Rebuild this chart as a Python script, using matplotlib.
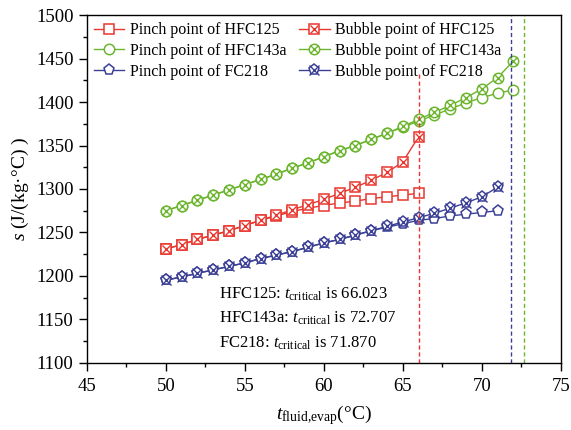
import matplotlib
matplotlib.use('Agg')
import matplotlib.pyplot as plt
from matplotlib.ticker import MultipleLocator

plt.rcParams['font.family'] = ['Liberation Serif', 'DejaVu Serif']
plt.rcParams['mathtext.fontset'] = 'custom'
plt.rcParams['mathtext.rm'] = 'Liberation Serif'
plt.rcParams['mathtext.it'] = 'Liberation Serif:italic'

# evaporating fluid temperature (°C) for each refrigerant
t_hfc125 = list(range(50, 67))
t_hfc143a = list(range(50, 73))
t_fc218 = list(range(50, 72))

# entropy values s (J/(kg·°C))
pinch_hfc125 = [1231, 1236, 1242, 1247, 1252, 1258, 1264, 1269, 1274, 1278, 1281,
                1284, 1286, 1289, 1291, 1293, 1295]
bubble_hfc125 = [1231, 1236, 1242, 1247, 1252, 1258, 1264, 1270, 1276, 1282, 1288,
                 1295, 1302, 1310, 1319, 1331, 1360]
pinch_hfc143a = [1275, 1281, 1287, 1293, 1299, 1305, 1311, 1317, 1324, 1330, 1337,
                 1344, 1350, 1357, 1364, 1371, 1378, 1385, 1392, 1399, 1405, 1410, 1414]
bubble_hfc143a = [1275, 1281, 1287, 1293, 1299, 1305, 1311, 1317, 1324, 1330, 1337,
                  1344, 1350, 1357, 1364, 1372, 1380, 1388, 1396, 1405, 1415, 1428, 1447]
pinch_fc218 = [1195, 1199, 1203, 1207, 1211, 1215, 1220, 1224, 1228, 1233, 1238,
               1242, 1247, 1252, 1256, 1260, 1264, 1266, 1269, 1271, 1273, 1275]
bubble_fc218 = [1195, 1199, 1203, 1207, 1211, 1215, 1220, 1224, 1228, 1233, 1238,
                1242, 1247, 1252, 1257, 1262, 1267, 1272, 1278, 1284, 1291, 1302]

t_critical = {'HFC125': 66.023, 'HFC143a': 72.707, 'FC218': 71.870}

red = '#e8372e'
green = '#6cb52f'
blue = '#3b3f96'

fig = plt.figure(figsize=(5.71, 4.30), dpi=100)
ax = fig.add_axes([0.152, 0.156, 0.830, 0.809])

series = [
    (t_hfc125, pinch_hfc125, bubble_hfc125, red, 's', 'HFC125', 7),
    (t_hfc143a, pinch_hfc143a, bubble_hfc143a, green, 'o', 'HFC143a', 7.5),
    (t_fc218, pinch_fc218, bubble_fc218, blue, 'p', 'FC218', 8),
]
pinch_h, bubble_h = [], []
for t, pinch, bubble, c, m, name, ms in series:
    p, = ax.plot(t, pinch, color=c, marker=m, ms=ms, mfc='white', mec=c, mew=1.1, lw=1.0)
    b, = ax.plot(t, bubble, color=c, marker=m, ms=ms, mfc='white', mec=c, mew=1.1, lw=1.0)
    bx, = ax.plot(t, bubble, ls='none', marker='x', ms=ms * 0.85, mec=c, mew=1.0)
    pinch_h.append((p, 'Pinch point of ' + name))
    bubble_h.append(((b, bx), 'Bubble point of ' + name))

# critical temperature markers
ax.vlines(t_critical['HFC125'], 1100, 1432, colors=red, linestyles=(0, (3, 2)), lw=1.0)
ax.vlines(t_critical['FC218'], 1100, 1500, colors=blue, linestyles=(0, (3, 2)), lw=1.0)
ax.vlines(t_critical['HFC143a'], 1100, 1500, colors=green, linestyles=(0, (3, 2)), lw=1.0)

ax.text(53.4, 1179, r'HFC125: $t_{\mathrm{critical}}$ is 66.023', fontsize=12, va='center')
ax.text(53.4, 1151, r'HFC143a: $t_{\mathrm{critical}}$ is 72.707', fontsize=12, va='center')
ax.text(53.4, 1123, r'FC218: $t_{\mathrm{critical}}$ is 71.870', fontsize=12, va='center')

all_h = [h for h, _ in pinch_h] + [h for h, _ in bubble_h]
all_l = [l for _, l in pinch_h] + [l for _, l in bubble_h]
ax.legend(all_h, all_l, ncol=2, loc='upper left', frameon=False, fontsize=11.5,
          handlelength=1.9, handletextpad=0.35, columnspacing=0.8, labelspacing=0.3,
          borderaxespad=0.15, borderpad=0.3)

ax.set_xlim(45, 75)
ax.set_ylim(1100, 1500)
ax.xaxis.set_major_locator(MultipleLocator(5))
ax.xaxis.set_minor_locator(MultipleLocator(2.5))
ax.yaxis.set_major_locator(MultipleLocator(50))
ax.yaxis.set_minor_locator(MultipleLocator(25))
ax.tick_params(which='major', direction='out', length=6, width=1, labelsize=13.5)
ax.tick_params(axis='x', which='major', pad=5)
ax.tick_params(which='minor', direction='out', length=3, width=1)
for s in ax.spines.values():
    s.set_linewidth(1.0)

ax.set_xlabel(r'$t_{\mathrm{fluid{,}evap}}$(°C)', fontsize=14, labelpad=6)
ax.set_ylabel(r'$s$ (J/(kg·°C) )', fontsize=14, labelpad=4)

fig.savefig('out.png', dpi=100)
